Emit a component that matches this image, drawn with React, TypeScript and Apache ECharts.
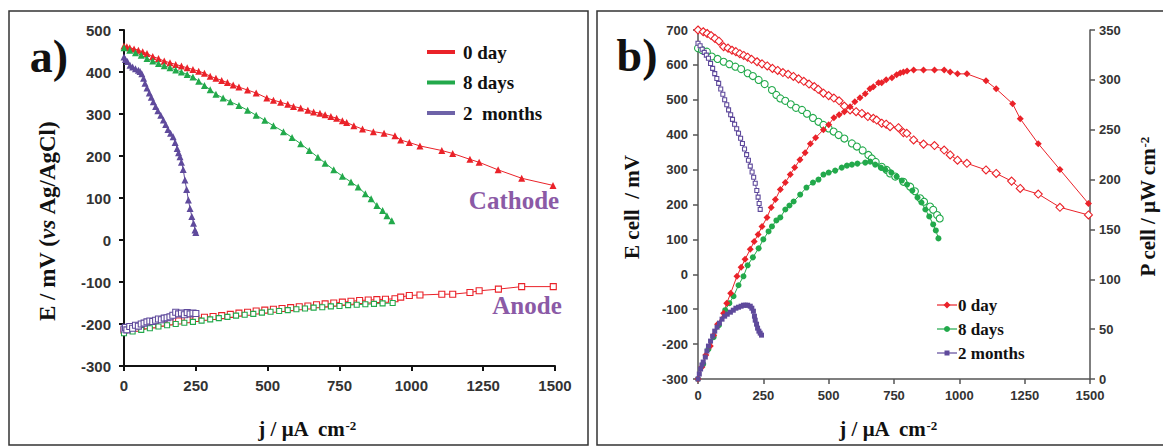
import React, { useEffect, useRef } from "react";
import * as echarts from "echarts";

// ---------- Panel a: electrode potentials (E vs Ag/AgCl) ----------
const cathode0Day: number[][] = [
  [0, 462], [10, 460], [20, 458], [35, 455], [50, 452], [65, 448], [80, 444], [100, 437], [120, 432],
  [140, 426], [160, 422], [180, 418], [200, 414], [220, 410], [240, 406], [260, 402], [280, 397],
  [300, 390], [320, 385], [340, 380], [360, 375], [380, 369], [400, 364], [430, 357], [460, 350],
  [497, 338], [520, 333], [545, 328], [570, 323], [590, 318], [615, 314], [640, 309], [660, 305],
  [682, 302], [700, 298], [720, 294], [740, 290], [760, 284], [775, 280], [800, 272], [830, 264],
  [868, 258], [905, 254], [943, 248], [963, 238], [993, 232], [1030, 224], [1106, 213], [1144, 206],
  [1204, 192], [1236, 185], [1302, 167], [1384, 147], [1493, 130],
];
const cathode8Days: number[][] = [
  [0, 458], [20, 452], [40, 446], [60, 440], [80, 432], [100, 426], [120, 420], [140, 415], [160, 410],
  [180, 405], [200, 400], [220, 394], [240, 388], [260, 378], [280, 368], [300, 358], [320, 347],
  [345, 338], [370, 329], [400, 320], [430, 309], [460, 297], [490, 285], [520, 272], [555, 258],
  [585, 244], [615, 229], [645, 213], [675, 197], [700, 183], [730, 167], [760, 152], [790, 138],
  [815, 126], [840, 110], [860, 98], [880, 82], [900, 70], [915, 58], [932, 46],
];
const cathode2Months: number[][] = [
  [0, 436], [5, 430], [12, 425], [21, 416], [30, 412], [40, 408], [50, 404], [56, 401], [62, 396],
  [68, 385], [73, 373], [80, 362], [88, 350], [95, 340], [102, 329], [110, 318], [118, 308], [128, 297],
  [137, 286], [145, 275], [153, 263], [162, 254], [171, 246], [178, 232], [185, 218], [190, 208],
  [195, 198], [200, 185], [206, 168], [212, 143], [218, 120], [224, 95], [230, 75], [236, 56],
  [242, 40], [247, 24], [250, 18],
];
const anode0Day: number[][] = [
  [0, -215], [20, -212], [40, -210], [60, -206], [80, -204], [100, -202], [130, -198], [160, -195],
  [190, -193], [220, -190], [250, -187], [280, -184], [310, -182], [340, -180], [370, -177], [400, -174],
  [430, -172], [460, -169], [490, -167], [520, -165], [550, -163], [580, -161], [610, -159], [640, -157],
  [670, -154], [700, -152], [730, -150], [760, -148], [790, -146], [820, -144], [850, -143], [880, -142],
  [910, -141], [943, -140], [963, -136], [993, -132], [1030, -131], [1106, -129], [1144, -129],
  [1204, -125], [1236, -121], [1303, -117], [1384, -111], [1494, -111],
];
const anode8Days: number[][] = [
  [0, -222], [30, -218], [60, -214], [90, -210], [120, -206], [150, -203], [180, -200], [210, -197],
  [240, -195], [270, -192], [300, -189], [330, -186], [360, -183], [390, -180], [420, -178], [450, -176],
  [480, -173], [510, -171], [540, -169], [570, -167], [600, -165], [630, -163], [660, -161], [690, -160],
  [720, -158], [750, -157], [780, -155], [810, -154], [840, -153], [870, -152], [900, -151], [935, -150],
];
const anode2Months: number[][] = [
  [0, -212], [5, -208], [10, -214], [20, -206], [30, -210], [40, -203], [50, -205], [60, -200],
  [70, -198], [80, -195], [90, -193], [100, -194], [110, -191], [120, -188], [130, -190], [140, -186],
  [150, -185], [160, -183], [170, -179], [180, -172], [190, -176], [200, -174], [210, -178], [220, -173],
  [230, -176], [240, -174], [250, -175],
];

// ---------- Panel b: cell voltage (left) and power density (right) ----------
const cellE0Day: number[][] = [
  [0, 700], [10, 702], [20, 695], [35, 690], [50, 684], [65, 676], [80, 668], [98, 652], [115, 648],
  [130, 642], [145, 638], [160, 632], [175, 627], [190, 622], [205, 616], [226, 609], [245, 603],
  [265, 597], [285, 590], [305, 584], [325, 578], [345, 573], [365, 567], [385, 560], [405, 553],
  [425, 545], [445, 538], [460, 530], [480, 519], [500, 512], [520, 505], [540, 497], [560, 482],
  [582, 471], [605, 466], [627, 461], [650, 452], [671, 447], [684, 442], [703, 433], [720, 430],
  [735, 423], [767, 420], [786, 406], [799, 404], [825, 385], [863, 373], [905, 369], [942, 356],
  [965, 342], [993, 327], [1029, 318], [1102, 299], [1141, 289], [1200, 267], [1233, 246],
  [1302, 230], [1385, 192], [1494, 170],
];
const cellP0Day: number[][] = [
  [0, 0], [15, 12], [30, 24], [47, 33], [60, 44], [75, 55], [98, 66], [110, 76], [125, 86], [149, 103],
  [165, 112], [180, 120], [200, 130], [215, 138], [230, 145], [245, 153], [264, 162], [280, 172],
  [296, 180], [315, 190], [334, 197], [353, 205], [370, 212], [390, 220], [410, 227], [430, 236],
  [450, 242], [480, 250], [500, 255], [520, 262], [540, 265], [560, 268], [582, 273], [600, 278],
  [620, 282], [640, 286], [658, 291], [671, 293], [691, 297], [703, 297], [720, 300], [742, 302],
  [760, 305], [774, 307], [786, 308], [800, 309], [825, 310], [863, 310], [905, 310], [942, 310],
  [965, 308], [993, 306], [1029, 306], [1102, 299], [1141, 291], [1204, 276], [1233, 261],
  [1302, 236], [1385, 210], [1494, 176],
];
const cellE8Days: number[][] = [
  [0, 648], [15, 643], [34, 638], [53, 624], [75, 617], [98, 609], [120, 602], [143, 595], [165, 588],
  [190, 576], [210, 568], [232, 557], [255, 545], [283, 528], [300, 514], [315, 504], [334, 497],
  [355, 487], [375, 477], [398, 471], [417, 460], [440, 448], [461, 437], [480, 428], [500, 418],
  [519, 409], [538, 399], [560, 389], [589, 375], [608, 366], [630, 355], [652, 342], [665, 332],
  [680, 322], [703, 308], [722, 299], [735, 289], [755, 280], [786, 265], [812, 251], [830, 238],
  [850, 218], [865, 208], [888, 194], [900, 185], [915, 170], [925, 160],
];
const cellP8Days: number[][] = [
  [0, 0], [20, 15], [40, 30], [60, 42], [80, 54], [104, 69], [120, 76], [136, 83], [155, 94], [174, 103],
  [190, 114], [210, 122], [232, 131], [250, 140], [270, 148], [283, 153], [300, 159], [315, 162],
  [334, 170], [350, 174], [366, 178], [391, 185], [415, 192], [440, 197], [461, 200], [480, 205],
  [500, 207], [525, 209], [550, 212], [570, 214], [589, 215], [610, 216], [640, 217], [659, 218],
  [678, 215], [700, 212], [716, 210], [740, 207], [760, 203], [780, 199], [800, 195], [820, 189],
  [840, 182], [855, 177], [870, 170], [885, 163], [900, 155], [910, 149], [920, 141],
];
const cellE2Months: number[][] = [
  [0, 662], [8, 655], [16, 645], [24, 636], [32, 628], [40, 619], [48, 604], [56, 590], [64, 575],
  [72, 561], [79, 547], [87, 531], [95, 516], [102, 500], [110, 486], [117, 471], [125, 457], [132, 444],
  [140, 430], [148, 417], [155, 404], [163, 390], [170, 375], [178, 359], [186, 343], [193, 327],
  [200, 310], [207, 293], [213, 278], [219, 261], [225, 240], [230, 221], [234, 203], [238, 186],
];
const cellP2Months: number[][] = [
  [0, 0], [5, 5], [10, 10], [15, 14], [20, 17], [28, 22], [34, 28], [40, 33], [48, 38], [56, 43],
  [64, 48], [73, 52], [82, 56], [92, 60], [102, 63], [112, 65], [124, 67], [135, 69], [145, 71],
  [155, 72], [165, 73], [174, 74], [182, 74], [190, 74], [200, 73], [206, 71], [212, 68], [216, 63],
  [219, 59], [224, 55], [228, 51], [233, 48], [238, 46], [243, 44],
];

const seriesNames = ["0 day", "8 days", "2 months"];
const legendNamesA = ["0 day", "8 days", "2  months"];

const RED = "#ea2229";
const GREEN = "#22a94b";
const PURPLE = "#5f4a9c";
const LEGEND_PURPLE = "#6e63a8";
const NOTE_PURPLE = "#8b5aa6";

const SERIF = '"Liberation Serif", "Times New Roman", serif';
const SANS = '"Liberation Sans", Arial, sans-serif';

function mk(
  name: string, data: number[][], xi: number, yi: number, symbol: string, size: number,
  color: string, open: boolean, lw = 1
) {
  return {
    type: "line", name, data, xAxisIndex: xi, yAxisIndex: yi, symbol, symbolSize: size,
    showAllSymbol: true, silent: true,
    lineStyle: { color, width: lw },
    itemStyle: open ? { color: "#ffffff", borderColor: color, borderWidth: 1.1 } : { color, borderWidth: 0 },
    emphasis: { disabled: true },
  };
}

function axisStyle(fontSize: number, lineColor: string, lineWidth: number, labelMargin: number) {
  return {
    axisLine: { show: true, onZero: false, lineStyle: { color: lineColor, width: lineWidth } },
    axisTick: { show: true, length: 5, lineStyle: { color: lineColor, width: lineWidth } },
    axisLabel: {
      fontFamily: SANS, fontWeight: "bold", fontSize, color: "#333", margin: labelMargin,
      formatter: (v: number) => String(v),
    },
    splitLine: { show: false },
  };
}

export default function App() {
  const ref = useRef<HTMLDivElement>(null);
  useEffect(() => {
    if (!ref.current) return;
    const chart = echarts.init(ref.current, null, { renderer: "svg" });
    const legendA = legendNamesA.flatMap((n, i) => {
      const c = [RED, GREEN, LEGEND_PURPLE][i];
      const y = 52 + i * 30.5;
      return [
        { type: "line", shape: { x1: 427, y1: y, x2: 455, y2: y }, style: { stroke: c, lineWidth: 4 } },
        {
          type: "text", x: 463, y,
          style: { text: n, font: `bold 19px ${SERIF}`, fill: "#111", textAlign: "left", textVerticalAlign: "middle", align: "left", verticalAlign: "middle" },
        },
      ];
    });
    const legendB = seriesNames.flatMap((n, i) => {
      const c = [RED, GREEN, PURPLE][i];
      const y = 305 + i * 24;
      const cx = 947;
      const marker =
        i === 0
          ? { type: "polygon", shape: { points: [[cx, y - 3.5], [cx + 3.5, y], [cx, y + 3.5], [cx - 3.5, y]] }, style: { fill: c } }
          : i === 1
          ? { type: "circle", shape: { cx, cy: y, r: 3 }, style: { fill: c } }
          : { type: "rect", shape: { x: cx - 2.5, y: y - 2.5, width: 5, height: 5 }, style: { fill: c } };
      return [
        { type: "line", shape: { x1: 937, y1: y, x2: 957, y2: y }, style: { stroke: c, lineWidth: 1.2 } },
        marker,
        {
          type: "text", x: 958, y,
          style: { text: n, font: `bold 17px ${SERIF}`, fill: "#111", textAlign: "left", textVerticalAlign: "middle", align: "left", verticalAlign: "middle" },
        },
      ];
    });
    const txt = (text: string, x: number, y: number, font: string, fill = "#111", rotation = 0, rich?: any) => ({
      type: "text", x, y, rotation,
      style: { text, font, fill, textAlign: "center", textVerticalAlign: "middle", align: "center", verticalAlign: "middle", rich },
    });
    const nameFont = `bold 21px ${SERIF}`;
    const supRich = { sup: { font: `bold 13px ${SERIF}`, verticalAlign: "top", fill: "#111" } };
    const option: any = {
      animation: false,
      backgroundColor: "#ffffff",
      grid: [
        { left: 124, top: 30, width: 431, height: 336, containLabel: false },
        { left: 698, top: 30, width: 392, height: 349, containLabel: false },
      ],
      xAxis: [
        { type: "value", gridIndex: 0, min: 0, max: 1500, interval: 250, ...axisStyle(15, "#111", 2, 12) },
        { type: "value", gridIndex: 1, min: 0, max: 1500, interval: 250, ...axisStyle(13, "#555", 1.5, 10) },
      ],
      yAxis: [
        { type: "value", gridIndex: 0, min: -300, max: 500, interval: 100, ...axisStyle(15, "#111", 2, 13) },
        { type: "value", gridIndex: 1, min: -300, max: 700, interval: 100, ...axisStyle(13, "#555", 1.5, 10) },
        { type: "value", gridIndex: 1, position: "right", min: 0, max: 350, interval: 50, ...axisStyle(13, "#555", 1.5, 9) },
      ],
      series: [
        mk(seriesNames[0], anode0Day, 0, 0, "rect", 6, RED, true),
        mk(seriesNames[1], anode8Days, 0, 0, "rect", 5, GREEN, true),
        mk(seriesNames[2], anode2Months, 0, 0, "rect", 6, PURPLE, true, 1.5),
        mk(seriesNames[0], cathode0Day, 0, 0, "triangle", 7, RED, false),
        mk(seriesNames[1], cathode8Days, 0, 0, "triangle", 7, GREEN, false),
        mk(seriesNames[2], cathode2Months, 0, 0, "triangle", 7, PURPLE, false),
        mk(seriesNames[1], cellE8Days, 1, 1, "circle", 7, GREEN, true),
        mk(seriesNames[1], cellP8Days, 1, 2, "circle", 6, GREEN, false),
        mk(seriesNames[0], cellE0Day, 1, 1, "diamond", 8, RED, true),
        mk(seriesNames[0], cellP0Day, 1, 2, "diamond", 7, RED, false),
        mk(seriesNames[2], cellE2Months, 1, 1, "rect", 4, PURPLE, true),
        mk(seriesNames[2], cellP2Months, 1, 2, "rect", 5, PURPLE, false),
      ],
      graphic: [
        { type: "rect", shape: { x: 9, y: 11, width: 579, height: 434 }, style: { fill: "none", stroke: "#333", lineWidth: 1.5 }, silent: true },
        { type: "rect", shape: { x: 597, y: 11, width: 600, height: 434 }, style: { fill: "none", stroke: "#333", lineWidth: 1.5 }, silent: true },
        txt("a)", 49, 56, `bold 46px ${SERIF}`),
        txt("b)", 637, 55, `bold 46px ${SERIF}`),
        txt("E / mV ({it|vs} Ag/AgCl)", 47, 221, `bold 23px ${SERIF}`, "#111", Math.PI / 2, {
          it: { font: `italic bold 23px ${SERIF}`, fill: "#111" },
        }),
        txt("j / μA  cm{sup|-2}", 307, 429, nameFont, "#111", 0, supRich),
        txt("E cell  / mV", 632, 207, nameFont, "#111", Math.PI / 2),
        txt("j / μA  cm{sup|-2}", 888, 429, nameFont, "#111", 0, supRich),
        txt("P cell / μW cm{sup|-2}", 1148, 207, nameFont, "#111", Math.PI / 2, supRich),
        txt("Cathode", 514, 200, `bold 25px ${SERIF}`, NOTE_PURPLE),
        txt("Anode", 527, 305, `bold 25px ${SERIF}`, NOTE_PURPLE),
        ...legendA,
        ...legendB,
      ],
    };
    chart.setOption(option);
    return () => chart.dispose();
  }, []);
  return (
    <div
      ref={ref}
      style={{ position: "fixed", left: 0, top: 0, width: 1163, height: 446, background: "#fff" }}
    />
  );
}
